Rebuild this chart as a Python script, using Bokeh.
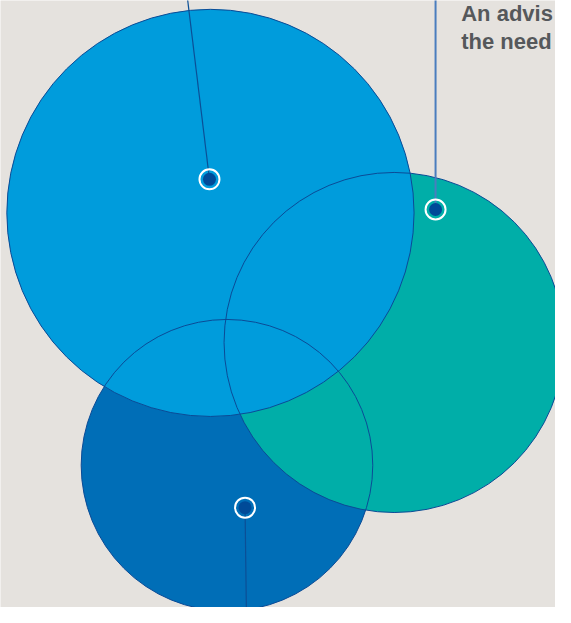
from bokeh.plotting import figure
from bokeh.models import Range1d, ColumnDataSource
from bokeh.core.properties import value
from bokeh.embed import file_html
from bokeh.resources import INLINE

# Reference frame: 571 x 623 units, y grows downward
# Circles (drawn bottom to top): dark blue, teal, light blue
circle_x = [233, 405, 216]
circle_y = [477, 351, 218]
circle_r = [150, 175, 209.5]
circle_colors = ["#006EB7", "#00AEA8", "#009CDC"]

# Marker dots and their leader line ends
dot_x = [251.6, 447.6, 215]
dot_y = [520.5, 214.5, 183.5]
lead_x = [253, 447.6, 192]
lead_y = [628, -5, -5]
lead_colors = ["#0B4F96", "#4A7DBE", "#0B4F96"]
lead_widths = [1.2, 2, 1.2]

# Callout text (as visible in the reference, which cuts it at the right edge)
label_lines = ["An advis", "the need"]
label_x = [474, 474]
label_y = [13, 42.5]

W, H = 555, 607
p = figure(width=W, height=H, output_backend="svg", toolbar_location=None,
           x_range=Range1d(0, 571), y_range=Range1d(623, 0),
           min_border=0, outline_line_color=None)
p.axis.visible = False
p.grid.visible = False
p.background_fill_color = "#E5E2DE"
p.border_fill_color = "#E5E2DE"

# fills
src = ColumnDataSource(dict(x=circle_x, y=circle_y, r=circle_r, c=circle_colors))
p.circle(x="x", y="y", radius="r", source=src, fill_color="c", line_color=None)
# outlines on top
p.circle(x="x", y="y", radius="r", source=src, fill_color=None,
         line_color="#0B4B96", line_width=1)

# leader lines
p.segment(x0=dot_x, y0=dot_y, x1=lead_x, y1=lead_y,
          line_color=lead_colors, line_width=lead_widths)

# dots
p.scatter(x=dot_x, y=dot_y, size=20, fill_color=None, line_color="white", line_width=2)
p.scatter(x=dot_x, y=dot_y, size=13, fill_color="#004A98", line_color=None)

# text
p.text(x=label_x, y=label_y, text=label_lines, text_font=value("Liberation Sans"),
       text_font_style="bold", text_font_size="22px", text_color="#55585B",
       text_baseline="alphabetic", text_align="left")

open("out.html", "w").write(file_html(p, INLINE))
